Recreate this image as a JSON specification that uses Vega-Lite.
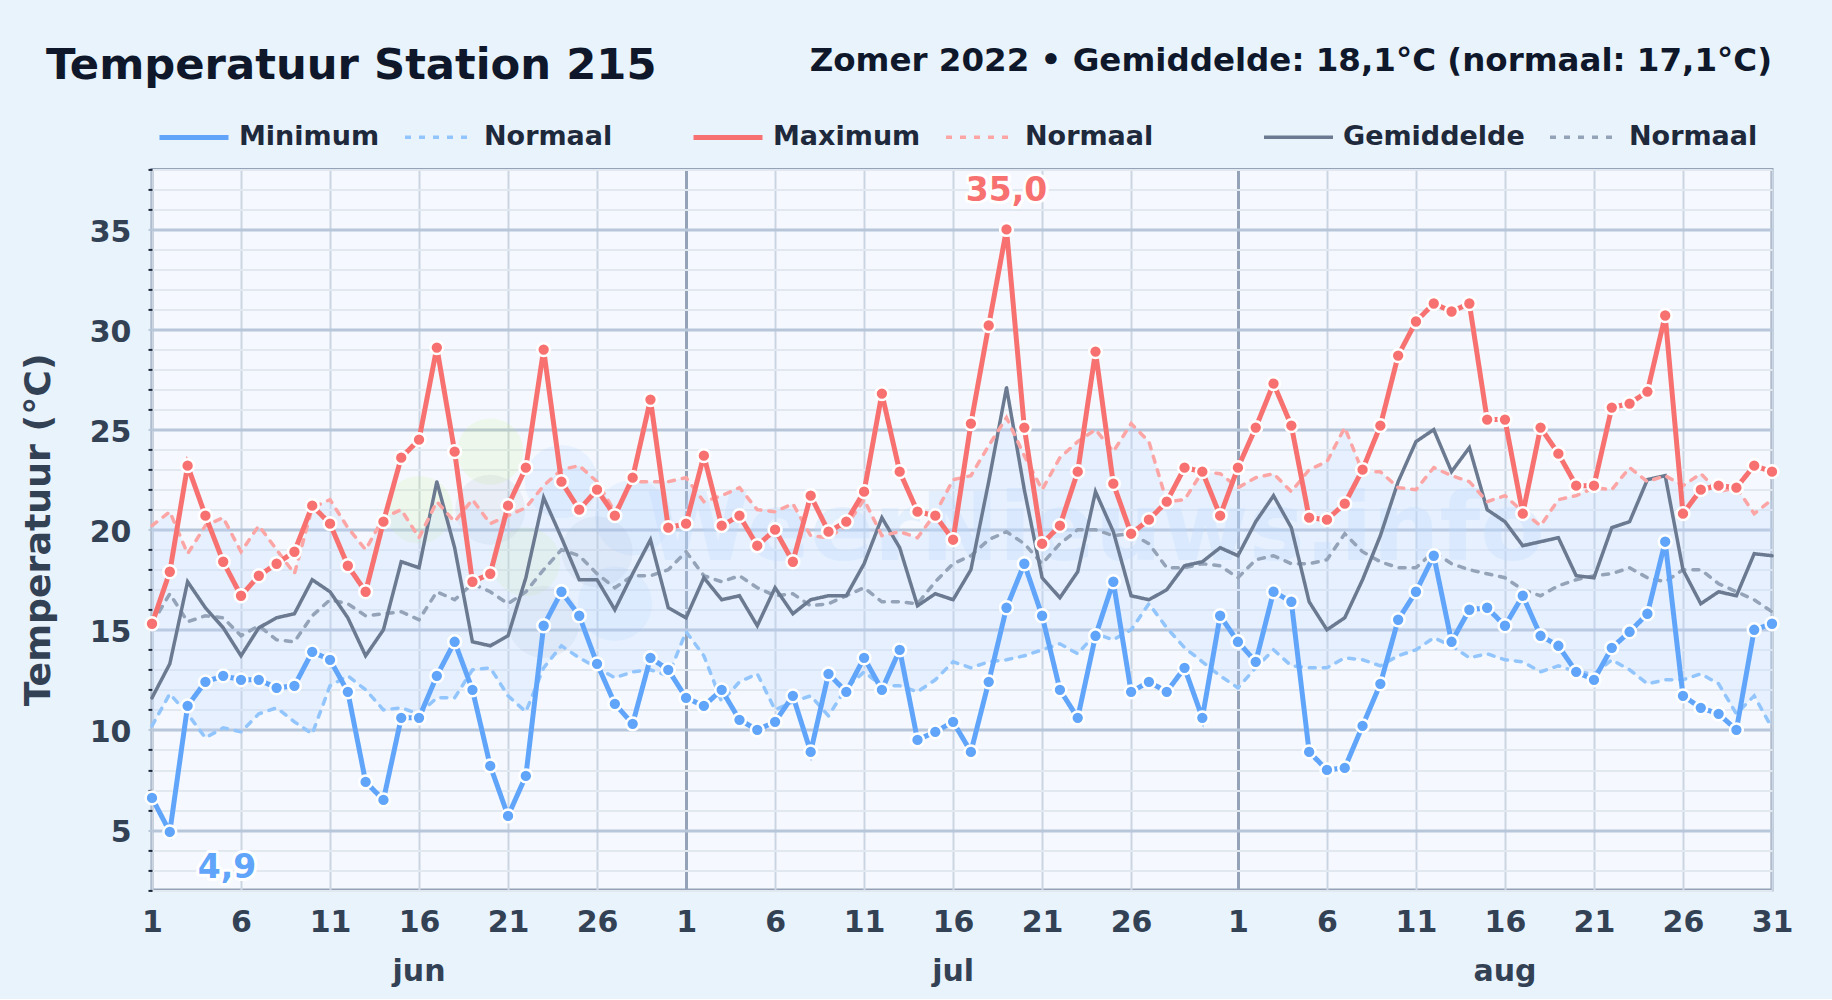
{
"$schema":"https://vega.github.io/schema/vega-lite/v6.json",
"width":1620,"height":720.6,"autosize":{"type":"none"},
"padding":{"left":152,"top":169.4,"right":60,"bottom":109},
"background":"#e8f3fc",
"view":{"fill":"#f5f9ff","stroke":"#94a3b8","strokeWidth":3},
"title":{"text":"Temperatuur Station 215","anchor":"start","frame":"group","dx":-106,"offset":-43,"fontSize":43.3,"font":"DejaVu Sans","fontWeight":"bold","color":"#0f172a"},
"config":{"font":"DejaVu Sans","legend":{"orient":"none","direction":"horizontal","title":null,"symbolType":"stroke","symbolSize":4761,"labelFont":"DejaVu Sans","labelFontSize":27,"labelFontWeight":"bold","labelColor":"#1e293b","labelOffset":8,"columnPadding":18,"padding":0,"labelLimit":400}},
"datasets":{
"d":[
{"date":"2022-06-01","Minimum":6.6,"Maximum":15.3,"Gemiddelde":11.6,"Normaal_min":10.2,"Normaal_max":20.2,"Normaal_gem":15.3},
{"date":"2022-06-02","Minimum":4.9,"Maximum":17.9,"Gemiddelde":13.3,"Normaal_min":11.8,"Normaal_max":20.9,"Normaal_gem":16.8},
{"date":"2022-06-03","Minimum":11.2,"Maximum":23.2,"Gemiddelde":17.4,"Normaal_min":10.8,"Normaal_max":18.8,"Normaal_gem":15.4},
{"date":"2022-06-04","Minimum":12.4,"Maximum":20.7,"Gemiddelde":16.1,"Normaal_min":9.6,"Normaal_max":20.2,"Normaal_gem":15.7},
{"date":"2022-06-05","Minimum":12.7,"Maximum":18.4,"Gemiddelde":15.1,"Normaal_min":10.1,"Normaal_max":20.6,"Normaal_gem":15.6},
{"date":"2022-06-06","Minimum":12.5,"Maximum":16.7,"Gemiddelde":13.7,"Normaal_min":9.9,"Normaal_max":18.9,"Normaal_gem":14.7},
{"date":"2022-06-07","Minimum":12.5,"Maximum":17.7,"Gemiddelde":15.1,"Normaal_min":10.8,"Normaal_max":20.2,"Normaal_gem":15.2},
{"date":"2022-06-08","Minimum":12.1,"Maximum":18.3,"Gemiddelde":15.6,"Normaal_min":11.1,"Normaal_max":19.0,"Normaal_gem":14.5},
{"date":"2022-06-09","Minimum":12.2,"Maximum":18.9,"Gemiddelde":15.8,"Normaal_min":10.4,"Normaal_max":17.8,"Normaal_gem":14.4},
{"date":"2022-06-10","Minimum":13.9,"Maximum":21.2,"Gemiddelde":17.5,"Normaal_min":9.8,"Normaal_max":21.1,"Normaal_gem":15.7},
{"date":"2022-06-11","Minimum":13.5,"Maximum":20.3,"Gemiddelde":16.9,"Normaal_min":12.2,"Normaal_max":21.5,"Normaal_gem":16.5},
{"date":"2022-06-12","Minimum":11.9,"Maximum":18.2,"Gemiddelde":15.6,"Normaal_min":12.7,"Normaal_max":20.1,"Normaal_gem":16.3},
{"date":"2022-06-13","Minimum":7.4,"Maximum":16.9,"Gemiddelde":13.7,"Normaal_min":12.0,"Normaal_max":19.0,"Normaal_gem":15.7},
{"date":"2022-06-14","Minimum":6.5,"Maximum":20.4,"Gemiddelde":15.0,"Normaal_min":11.0,"Normaal_max":20.6,"Normaal_gem":15.8},
{"date":"2022-06-15","Minimum":10.6,"Maximum":23.6,"Gemiddelde":18.4,"Normaal_min":11.1,"Normaal_max":21.0,"Normaal_gem":15.9},
{"date":"2022-06-16","Minimum":10.6,"Maximum":24.5,"Gemiddelde":18.1,"Normaal_min":10.8,"Normaal_max":19.6,"Normaal_gem":15.5},
{"date":"2022-06-17","Minimum":12.7,"Maximum":29.1,"Gemiddelde":22.4,"Normaal_min":11.6,"Normaal_max":21.4,"Normaal_gem":16.9},
{"date":"2022-06-18","Minimum":14.4,"Maximum":23.9,"Gemiddelde":19.1,"Normaal_min":11.6,"Normaal_max":20.4,"Normaal_gem":16.5},
{"date":"2022-06-19","Minimum":12.0,"Maximum":17.4,"Gemiddelde":14.4,"Normaal_min":13.0,"Normaal_max":21.5,"Normaal_gem":17.3},
{"date":"2022-06-20","Minimum":8.2,"Maximum":17.8,"Gemiddelde":14.2,"Normaal_min":13.1,"Normaal_max":20.3,"Normaal_gem":16.9},
{"date":"2022-06-21","Minimum":5.7,"Maximum":21.2,"Gemiddelde":14.7,"Normaal_min":11.7,"Normaal_max":20.7,"Normaal_gem":16.3},
{"date":"2022-06-22","Minimum":7.7,"Maximum":23.1,"Gemiddelde":17.6,"Normaal_min":10.9,"Normaal_max":21.1,"Normaal_gem":16.9},
{"date":"2022-06-23","Minimum":15.2,"Maximum":29.0,"Gemiddelde":21.6,"Normaal_min":13.1,"Normaal_max":22.2,"Normaal_gem":18.0},
{"date":"2022-06-24","Minimum":16.9,"Maximum":22.4,"Gemiddelde":19.6,"Normaal_min":14.2,"Normaal_max":23.0,"Normaal_gem":19.0},
{"date":"2022-06-25","Minimum":15.7,"Maximum":21.0,"Gemiddelde":17.5,"Normaal_min":13.6,"Normaal_max":23.2,"Normaal_gem":18.7},
{"date":"2022-06-26","Minimum":13.3,"Maximum":22.0,"Gemiddelde":17.5,"Normaal_min":13.1,"Normaal_max":22.4,"Normaal_gem":17.8},
{"date":"2022-06-27","Minimum":11.3,"Maximum":20.7,"Gemiddelde":16.0,"Normaal_min":12.6,"Normaal_max":20.9,"Normaal_gem":17.1},
{"date":"2022-06-28","Minimum":10.3,"Maximum":22.6,"Gemiddelde":17.8,"Normaal_min":12.9,"Normaal_max":22.4,"Normaal_gem":17.7},
{"date":"2022-06-29","Minimum":13.6,"Maximum":26.5,"Gemiddelde":19.5,"Normaal_min":13.0,"Normaal_max":22.4,"Normaal_gem":17.7},
{"date":"2022-06-30","Minimum":13.0,"Maximum":20.1,"Gemiddelde":16.1,"Normaal_min":12.7,"Normaal_max":22.4,"Normaal_gem":18.0},
{"date":"2022-07-01","Minimum":11.6,"Maximum":20.3,"Gemiddelde":15.6,"Normaal_min":14.9,"Normaal_max":22.6,"Normaal_gem":18.9},
{"date":"2022-07-02","Minimum":11.2,"Maximum":23.7,"Gemiddelde":17.6,"Normaal_min":13.7,"Normaal_max":21.4,"Normaal_gem":17.7},
{"date":"2022-07-03","Minimum":12.0,"Maximum":20.2,"Gemiddelde":16.5,"Normaal_min":11.4,"Normaal_max":21.7,"Normaal_gem":17.4},
{"date":"2022-07-04","Minimum":10.5,"Maximum":20.7,"Gemiddelde":16.7,"Normaal_min":12.4,"Normaal_max":22.1,"Normaal_gem":17.7},
{"date":"2022-07-05","Minimum":10.0,"Maximum":19.2,"Gemiddelde":15.2,"Normaal_min":12.8,"Normaal_max":21.0,"Normaal_gem":17.1},
{"date":"2022-07-06","Minimum":10.4,"Maximum":20.0,"Gemiddelde":17.1,"Normaal_min":11.0,"Normaal_max":20.9,"Normaal_gem":16.7},
{"date":"2022-07-07","Minimum":11.7,"Maximum":18.4,"Gemiddelde":15.8,"Normaal_min":11.4,"Normaal_max":21.3,"Normaal_gem":16.8},
{"date":"2022-07-08","Minimum":8.9,"Maximum":21.7,"Gemiddelde":16.5,"Normaal_min":11.7,"Normaal_max":19.7,"Normaal_gem":16.2},
{"date":"2022-07-09","Minimum":12.8,"Maximum":19.9,"Gemiddelde":16.7,"Normaal_min":10.7,"Normaal_max":19.6,"Normaal_gem":16.3},
{"date":"2022-07-10","Minimum":11.9,"Maximum":20.4,"Gemiddelde":16.7,"Normaal_min":12.1,"Normaal_max":20.2,"Normaal_gem":16.7},
{"date":"2022-07-11","Minimum":13.6,"Maximum":21.9,"Gemiddelde":18.3,"Normaal_min":12.9,"Normaal_max":21.5,"Normaal_gem":17.1},
{"date":"2022-07-12","Minimum":12.0,"Maximum":26.8,"Gemiddelde":20.6,"Normaal_min":12.2,"Normaal_max":19.7,"Normaal_gem":16.4},
{"date":"2022-07-13","Minimum":14.0,"Maximum":22.9,"Gemiddelde":19.1,"Normaal_min":12.2,"Normaal_max":19.9,"Normaal_gem":16.4},
{"date":"2022-07-14","Minimum":9.5,"Maximum":20.9,"Gemiddelde":16.2,"Normaal_min":11.9,"Normaal_max":19.6,"Normaal_gem":16.3},
{"date":"2022-07-15","Minimum":9.9,"Maximum":20.7,"Gemiddelde":16.8,"Normaal_min":12.5,"Normaal_max":20.8,"Normaal_gem":17.4},
{"date":"2022-07-16","Minimum":10.4,"Maximum":19.5,"Gemiddelde":16.5,"Normaal_min":13.4,"Normaal_max":22.5,"Normaal_gem":18.3},
{"date":"2022-07-17","Minimum":8.9,"Maximum":25.3,"Gemiddelde":18.0,"Normaal_min":13.1,"Normaal_max":22.7,"Normaal_gem":18.7},
{"date":"2022-07-18","Minimum":12.4,"Maximum":30.2,"Gemiddelde":22.4,"Normaal_min":13.4,"Normaal_max":24.2,"Normaal_gem":19.5},
{"date":"2022-07-19","Minimum":16.1,"Maximum":35.0,"Gemiddelde":27.1,"Normaal_min":13.5,"Normaal_max":25.6,"Normaal_gem":19.9},
{"date":"2022-07-20","Minimum":18.3,"Maximum":25.1,"Gemiddelde":22.0,"Normaal_min":13.7,"Normaal_max":23.7,"Normaal_gem":19.3},
{"date":"2022-07-21","Minimum":15.7,"Maximum":19.3,"Gemiddelde":17.6,"Normaal_min":14.0,"Normaal_max":22.0,"Normaal_gem":18.3},
{"date":"2022-07-22","Minimum":12.0,"Maximum":20.2,"Gemiddelde":16.6,"Normaal_min":14.3,"Normaal_max":23.6,"Normaal_gem":19.3},
{"date":"2022-07-23","Minimum":10.6,"Maximum":22.9,"Gemiddelde":17.9,"Normaal_min":13.8,"Normaal_max":24.4,"Normaal_gem":20.0},
{"date":"2022-07-24","Minimum":14.7,"Maximum":28.9,"Gemiddelde":21.9,"Normaal_min":14.8,"Normaal_max":25.0,"Normaal_gem":20.0},
{"date":"2022-07-25","Minimum":17.4,"Maximum":22.3,"Gemiddelde":19.9,"Normaal_min":14.5,"Normaal_max":23.9,"Normaal_gem":19.7},
{"date":"2022-07-26","Minimum":11.9,"Maximum":19.8,"Gemiddelde":16.7,"Normaal_min":15.0,"Normaal_max":25.3,"Normaal_gem":19.8},
{"date":"2022-07-27","Minimum":12.4,"Maximum":20.5,"Gemiddelde":16.5,"Normaal_min":16.3,"Normaal_max":24.4,"Normaal_gem":19.3},
{"date":"2022-07-28","Minimum":11.9,"Maximum":21.4,"Gemiddelde":17.0,"Normaal_min":15.1,"Normaal_max":21.4,"Normaal_gem":18.1},
{"date":"2022-07-29","Minimum":13.1,"Maximum":23.1,"Gemiddelde":18.2,"Normaal_min":14.1,"Normaal_max":21.5,"Normaal_gem":18.1},
{"date":"2022-07-30","Minimum":10.6,"Maximum":22.9,"Gemiddelde":18.4,"Normaal_min":13.4,"Normaal_max":22.9,"Normaal_gem":18.3},
{"date":"2022-07-31","Minimum":15.7,"Maximum":20.7,"Gemiddelde":19.1,"Normaal_min":12.7,"Normaal_max":22.8,"Normaal_gem":18.2},
{"date":"2022-08-01","Minimum":14.4,"Maximum":23.1,"Gemiddelde":18.7,"Normaal_min":12.1,"Normaal_max":22.1,"Normaal_gem":17.6},
{"date":"2022-08-02","Minimum":13.4,"Maximum":25.1,"Gemiddelde":20.4,"Normaal_min":13.1,"Normaal_max":22.6,"Normaal_gem":18.5},
{"date":"2022-08-03","Minimum":16.9,"Maximum":27.3,"Gemiddelde":21.7,"Normaal_min":14.0,"Normaal_max":22.8,"Normaal_gem":18.7},
{"date":"2022-08-04","Minimum":16.4,"Maximum":25.2,"Gemiddelde":20.1,"Normaal_min":13.2,"Normaal_max":21.9,"Normaal_gem":18.3},
{"date":"2022-08-05","Minimum":8.9,"Maximum":20.6,"Gemiddelde":16.4,"Normaal_min":13.1,"Normaal_max":23.0,"Normaal_gem":18.3},
{"date":"2022-08-06","Minimum":8.0,"Maximum":20.5,"Gemiddelde":15.0,"Normaal_min":13.1,"Normaal_max":23.4,"Normaal_gem":18.5},
{"date":"2022-08-07","Minimum":8.1,"Maximum":21.3,"Gemiddelde":15.6,"Normaal_min":13.6,"Normaal_max":25.1,"Normaal_gem":19.8},
{"date":"2022-08-08","Minimum":10.2,"Maximum":23.0,"Gemiddelde":17.5,"Normaal_min":13.5,"Normaal_max":22.9,"Normaal_gem":18.9},
{"date":"2022-08-09","Minimum":12.3,"Maximum":25.2,"Gemiddelde":19.7,"Normaal_min":13.2,"Normaal_max":22.9,"Normaal_gem":18.4},
{"date":"2022-08-10","Minimum":15.5,"Maximum":28.7,"Gemiddelde":22.4,"Normaal_min":13.7,"Normaal_max":22.1,"Normaal_gem":18.1},
{"date":"2022-08-11","Minimum":16.9,"Maximum":30.4,"Gemiddelde":24.4,"Normaal_min":14.0,"Normaal_max":22.0,"Normaal_gem":18.1},
{"date":"2022-08-12","Minimum":18.7,"Maximum":31.3,"Gemiddelde":25.0,"Normaal_min":14.6,"Normaal_max":23.1,"Normaal_gem":18.9},
{"date":"2022-08-13","Minimum":14.4,"Maximum":30.9,"Gemiddelde":22.9,"Normaal_min":14.2,"Normaal_max":22.7,"Normaal_gem":18.3},
{"date":"2022-08-14","Minimum":16.0,"Maximum":31.3,"Gemiddelde":24.1,"Normaal_min":13.6,"Normaal_max":22.4,"Normaal_gem":18.0},
{"date":"2022-08-15","Minimum":16.1,"Maximum":25.5,"Gemiddelde":21.0,"Normaal_min":13.8,"Normaal_max":21.4,"Normaal_gem":17.8},
{"date":"2022-08-16","Minimum":15.2,"Maximum":25.5,"Gemiddelde":20.4,"Normaal_min":13.5,"Normaal_max":21.7,"Normaal_gem":17.6},
{"date":"2022-08-17","Minimum":16.7,"Maximum":20.8,"Gemiddelde":19.2,"Normaal_min":13.4,"Normaal_max":20.9,"Normaal_gem":17.0},
{"date":"2022-08-18","Minimum":14.7,"Maximum":25.1,"Gemiddelde":19.4,"Normaal_min":12.9,"Normaal_max":20.2,"Normaal_gem":16.7},
{"date":"2022-08-19","Minimum":14.2,"Maximum":23.8,"Gemiddelde":19.6,"Normaal_min":13.2,"Normaal_max":21.5,"Normaal_gem":17.2},
{"date":"2022-08-20","Minimum":12.9,"Maximum":22.2,"Gemiddelde":17.7,"Normaal_min":12.9,"Normaal_max":21.7,"Normaal_gem":17.5},
{"date":"2022-08-21","Minimum":12.5,"Maximum":22.2,"Gemiddelde":17.6,"Normaal_min":12.8,"Normaal_max":22.1,"Normaal_gem":17.7},
{"date":"2022-08-22","Minimum":14.1,"Maximum":26.1,"Gemiddelde":20.1,"Normaal_min":13.5,"Normaal_max":22.0,"Normaal_gem":17.8},
{"date":"2022-08-23","Minimum":14.9,"Maximum":26.3,"Gemiddelde":20.4,"Normaal_min":13.0,"Normaal_max":23.1,"Normaal_gem":18.1},
{"date":"2022-08-24","Minimum":15.8,"Maximum":26.9,"Gemiddelde":22.5,"Normaal_min":12.3,"Normaal_max":22.4,"Normaal_gem":17.6},
{"date":"2022-08-25","Minimum":19.4,"Maximum":30.7,"Gemiddelde":22.7,"Normaal_min":12.5,"Normaal_max":22.7,"Normaal_gem":17.4},
{"date":"2022-08-26","Minimum":11.7,"Maximum":20.8,"Gemiddelde":18.0,"Normaal_min":12.5,"Normaal_max":22.2,"Normaal_gem":18.0},
{"date":"2022-08-27","Minimum":11.1,"Maximum":22.0,"Gemiddelde":16.3,"Normaal_min":12.8,"Normaal_max":22.8,"Normaal_gem":18.0},
{"date":"2022-08-28","Minimum":10.8,"Maximum":22.2,"Gemiddelde":16.9,"Normaal_min":12.3,"Normaal_max":21.9,"Normaal_gem":17.3},
{"date":"2022-08-29","Minimum":10.0,"Maximum":22.1,"Gemiddelde":16.7,"Normaal_min":10.8,"Normaal_max":22.1,"Normaal_gem":16.9},
{"date":"2022-08-30","Minimum":15.0,"Maximum":23.2,"Gemiddelde":18.8,"Normaal_min":11.7,"Normaal_max":20.8,"Normaal_gem":16.5},
{"date":"2022-08-31","Minimum":15.3,"Maximum":22.9,"Gemiddelde":18.7,"Normaal_min":10.1,"Normaal_max":21.5,"Normaal_gem":15.9}
],
"blobs":[
{"date":"2022-06-20","value":23.9,"blob":"green1"},
{"date":"2022-06-16","value":21.0,"blob":"green2"},
{"date":"2022-06-22","value":18.4,"blob":"green3"},
{"date":"2022-06-20","value":21.0,"blob":"slate1"},
{"date":"2022-06-26","value":18.9,"blob":"slate2"},
{"date":"2022-06-23","value":15.4,"blob":"slate3"},
{"date":"2022-06-24","value":22.4,"blob":"blue1"},
{"date":"2022-06-27","value":16.3,"blob":"blue2"},
{"date":"2022-06-28","value":20.6,"blob":"blue3"}
],
"wm":[{"date":"2022-07-24","value":19.9,"label":"WeerNieuws.info"}],
"months":[{"date":"2022-06-16","value":-2.1,"label":"jun"},{"date":"2022-07-16","value":-2.1,"label":"jul"},{"date":"2022-08-16","value":-2.1,"label":"aug"}],
"sub":[{"date":"2022-08-31","value":43.4,"label":"Zomer 2022 • Gemiddelde: 18,1°C (normaal: 17,1°C)"}],
"peaks":[{"date":"2022-07-19","value":36.9,"label":"35,0","kind":"max"},{"date":"2022-06-05T05:00:00Z","value":3.1,"label":"4,9","kind":"min"}]
},
"data":{"name":"d"},
"resolve":{"scale":{"stroke":"independent","strokeDash":"independent","strokeWidth":"independent","color":"independent","size":"independent"}},
"layer":[
{"data":{"name":"blobs"},"mark":{"type":"circle","opacity":0.13},
 "encoding":{
  "x":{"field":"date","type":"temporal","scale":{"type":"utc","domain":["2022-06-01","2022-08-31"],"nice":false},
   "axis":{"title":null,"domain":false,"ticks":false,"labelPadding":17,"labelFontSize":30,"labelFont":"DejaVu Sans","labelFontWeight":"bold","labelColor":"#334155","labelOverlap":false,"labelFlush":false,"labelExpr":"utcFormat(datum.value,'%-d')",
    "values":["2022-06-01","2022-06-06","2022-06-11","2022-06-16","2022-06-21","2022-06-26","2022-07-01","2022-07-06","2022-07-11","2022-07-16","2022-07-21","2022-07-26","2022-08-01","2022-08-06","2022-08-11","2022-08-16","2022-08-21","2022-08-26","2022-08-31"],
    "grid":true,"gridColor":{"condition":{"test":"utcdate(datum.value)==1 && utcmonth(datum.value)>5","value":"#94a3b8"},"value":"#cbd5e1"},"gridWidth":{"condition":{"test":"utcdate(datum.value)==1 && utcmonth(datum.value)>5","value":3},"value":2}}},
  "y":{"field":"value","type":"quantitative","scale":{"domain":[2,38],"nice":false,"zero":false},
   "axis":{"title":"Temperatuur (°C)","titleFont":"DejaVu Sans","titleFontSize":36.3,"titleFontWeight":"bold","titleColor":"#334155","titleX":-95,"titleY":360,"domain":false,"tickCount":40,
    "values":[2,3,4,5,6,7,8,9,10,11,12,13,14,15,16,17,18,19,20,21,22,23,24,25,26,27,28,29,30,31,32,33,34,35,36,37,38],
    "labelExpr":"datum.value % 5 == 0 ? datum.label : ''","labelFontSize":30,"labelFont":"DejaVu Sans","labelFontWeight":"bold","labelColor":"#334155","labelPadding":17,"labelOffset":3,"labelOverlap":false,"tickSize":4,"tickWidth":2,
    "tickColor":{"condition":{"test":"datum.value % 5 == 0","value":"#b8c6d9"},"value":"#1e293b"},
    "grid":true,"gridColor":{"condition":{"test":"datum.value % 5 == 0","value":"#b8c6d9"},"value":"#e2e8f0"},"gridWidth":{"condition":{"test":"datum.value % 5 == 0","value":3},"value":2}}},
  "color":{"field":"blob","legend":null,"scale":{"domain":["green1","green2","green3","slate1","slate2","slate3","blue1","blue2","blue3"],"range":["#bef264","#bef264","#bef264","#94a3b8","#94a3b8","#94a3b8","#93c5fd","#93c5fd","#93c5fd"]}},
  "size":{"field":"blob","legend":null,"scale":{"domain":["green1","green2","green3","slate1","slate2","slate3","blue1","blue2","blue3"],"range":[4400,5700,5000,3800,6400,4400,2000,3800,2800]}}
 }},
{"data":{"name":"wm"},"mark":{"type":"text","font":"DejaVu Sans","fontWeight":"bold","fontSize":94,"color":"#bfdbfe","opacity":0.3},
 "encoding":{"x":{"field":"date","type":"temporal"},"y":{"field":"value","type":"quantitative"},"text":{"field":"label"}}},
{"mark":{"type":"area","color":"#bfdbfe","opacity":0.27},
 "encoding":{"x":{"field":"date","type":"temporal"},"y":{"field":"Normaal_min","type":"quantitative"},"y2":{"field":"Normaal_max"}}},
{"transform":[{"fold":["Normaal_gem","Gemiddelde"],"as":["series","value"]}],
 "mark":{"type":"line","strokeCap":"round"},
 "encoding":{"x":{"field":"date","type":"temporal"},"y":{"field":"value","type":"quantitative"},
  "stroke":{"field":"series","scale":{"domain":["Gemiddelde","Normaal_gem"],"range":["#6b7a90","#94a3b8"]},"legend":{"legendX":1110,"legendY":-69,"labelExpr":"split(datum.label,'_')[0]","encode":{"symbols":{"update":{"strokeWidth":{"value":5}}}}}},
  "strokeDash":{"field":"series","scale":{"domain":["Gemiddelde","Normaal_gem"],"range":[[1,0],[6,8]]}},
  "strokeWidth":{"field":"series","scale":{"domain":["Gemiddelde","Normaal_gem"],"range":[3.5,3.5]}}}},
{"transform":[{"fold":["Normaal_min","Minimum"],"as":["series","value"]}],
 "mark":{"type":"line","strokeCap":"round"},
 "encoding":{"x":{"field":"date","type":"temporal"},"y":{"field":"value","type":"quantitative"},
  "stroke":{"field":"series","scale":{"domain":["Minimum","Normaal_min"],"range":["#60a5fa","#93c5fd"]},"legend":{"legendX":5,"legendY":-69,"labelExpr":"split(datum.label,'_')[0]","encode":{"symbols":{"update":{"strokeWidth":{"value":5}}}}}},
  "strokeDash":{"field":"series","scale":{"domain":["Minimum","Normaal_min"],"range":[[1,0],[6,8]]}},
  "strokeWidth":{"field":"series","scale":{"domain":["Minimum","Normaal_min"],"range":[5,3.5]}}}},
{"transform":[{"fold":["Normaal_max","Maximum"],"as":["series","value"]}],
 "mark":{"type":"line","strokeCap":"round"},
 "encoding":{"x":{"field":"date","type":"temporal"},"y":{"field":"value","type":"quantitative"},
  "stroke":{"field":"series","scale":{"domain":["Maximum","Normaal_max"],"range":["#f87171","#fca5a5"]},"legend":{"legendX":539,"legendY":-69,"labelExpr":"split(datum.label,'_')[0]","encode":{"symbols":{"update":{"strokeWidth":{"value":5}}}}}},
  "strokeDash":{"field":"series","scale":{"domain":["Maximum","Normaal_max"],"range":[[1,0],[6,8]]}},
  "strokeWidth":{"field":"series","scale":{"domain":["Maximum","Normaal_max"],"range":[5,3.5]}}}},
{"mark":{"type":"point","filled":true,"fill":"#60a5fa","stroke":"#ffffff","strokeWidth":2.5,"size":165,"opacity":1},
 "encoding":{"x":{"field":"date","type":"temporal"},"y":{"field":"Minimum","type":"quantitative"}}},
{"mark":{"type":"point","filled":true,"fill":"#f87171","stroke":"#ffffff","strokeWidth":2.5,"size":165,"opacity":1},
 "encoding":{"x":{"field":"date","type":"temporal"},"y":{"field":"Maximum","type":"quantitative"}}},
{"data":{"name":"peaks"},"mark":{"type":"text","font":"DejaVu Sans","fontWeight":"bold","fontSize":33,"stroke":"#ffffff","strokeWidth":6,"strokeJoin":"round","fill":"#ffffff"},
 "encoding":{"x":{"field":"date","type":"temporal"},"y":{"field":"value","type":"quantitative"},"text":{"field":"label"}}},
{"data":{"name":"peaks"},"mark":{"type":"text","font":"DejaVu Sans","fontWeight":"bold","fontSize":33},
 "encoding":{"x":{"field":"date","type":"temporal"},"y":{"field":"value","type":"quantitative"},"text":{"field":"label"},
  "color":{"field":"kind","legend":null,"scale":{"domain":["max","min"],"range":["#f87171","#60a5fa"]}}}},
{"data":{"name":"months"},"mark":{"type":"text","font":"DejaVu Sans","fontWeight":"bold","fontSize":30,"color":"#334155"},
 "encoding":{"x":{"field":"date","type":"temporal"},"y":{"field":"value","type":"quantitative"},"text":{"field":"label"}}},
{"data":{"name":"sub"},"mark":{"type":"text","font":"DejaVu Sans","fontWeight":"bold","fontSize":32.5,"color":"#0f172a","align":"right"},
 "encoding":{"x":{"field":"date","type":"temporal"},"y":{"field":"value","type":"quantitative"},"text":{"field":"label"}}}
]
}
